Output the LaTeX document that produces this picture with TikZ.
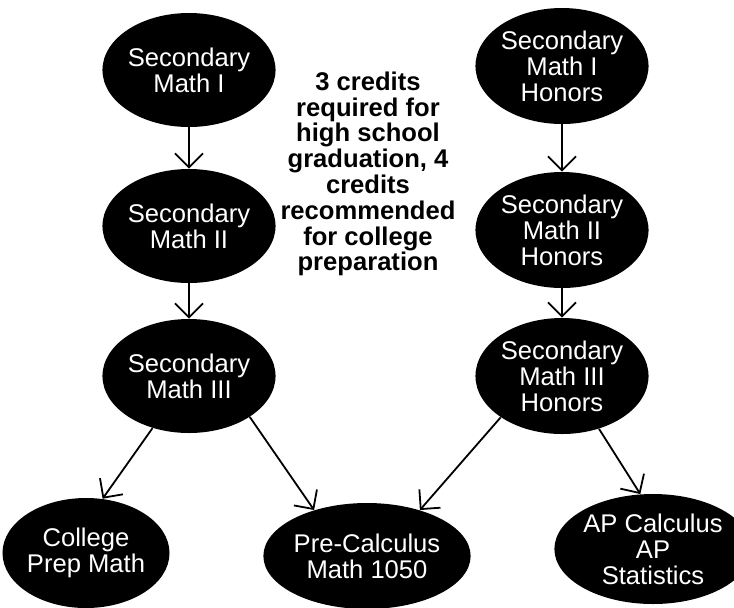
\documentclass[tikz,border=0pt]{standalone}
\usepackage{fontspec}
\setmainfont{Liberation Sans}
\usetikzlibrary{shapes.geometric,arrows.meta}

\begin{document}
\begin{tikzpicture}
    [
      x=.5pt, y=-.5pt,
      course/.style={ellipse, fill=black, text=white, inner sep=0pt, align=center,
                     font=\fontsize{12.8}{13}\selectfont},
      arr/.style={black, line width=.9pt, -{Straight Barb[length=7pt,width=14pt]}},
    ]
    \useasboundingbox (0,0) rectangle (734,607);

    % standard track
    \node [course, minimum width=78pt, minimum height=57pt] (m1) at (189, 70)  {Secondary\\Math I};
    \node [course, minimum width=78pt, minimum height=57pt] (m2) at (189, 226) {Secondary\\Math II};
    \node [course, minimum width=78pt, minimum height=57pt] (m3) at (189, 376) {Secondary\\Math III};

    % honors track
    \node [course, minimum width=82pt, minimum height=58pt] (h1) at (562, 66)  {Secondary\\Math I\\Honors};
    \node [course, minimum width=82pt, minimum height=58pt] (h2) at (562, 230) {Secondary\\Math II\\Honors};
    \node [course, minimum width=82pt, minimum height=58pt] (h3) at (562, 376) {Secondary\\Math III\\Honors};

    % after
    \node [course, minimum width=78pt, minimum height=55pt] (cp) at (86, 553)  {College\\Prep Math};
    \node [course, minimum width=89pt, minimum height=53pt] (pc) at (367, 556) {Pre-Calculus\\Math 1050};
    \node [course, minimum width=81pt, minimum height=55pt] (ap) at (653, 549) {AP Calculus\\AP\\Statistics};

    % note
    \node [align=center, font=\bfseries\fontsize{12.8}{12.9}\selectfont] (note) at (368, 174)
      {3 credits\\required for\\high school\\graduation, 4\\credits\\recommended\\for college\\preparation};

    % arrows
    \foreach \a/\b in {m1/m2, m2/m3, h1/h2, h2/h3} {
      \draw [arr] (\a) -- (\b);
    }
    \foreach \a/\b in {m3.-125/cp.73, m3.-34/pc.139, h3.-146/pc.41, h3.-55/ap.103} {
      \draw [arr] (\a) -- (\b);
    }
  \end{tikzpicture}
\end{document}
